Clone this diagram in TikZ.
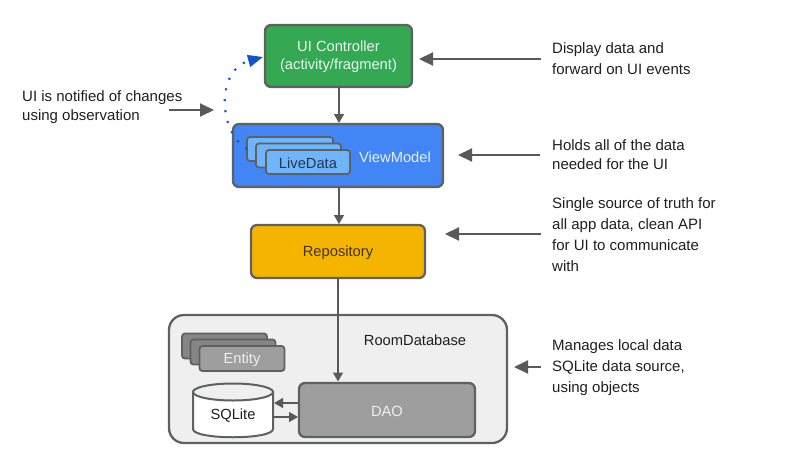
\documentclass[tikz,border=0pt]{standalone}
\usepackage{fontspec}
\setmainfont{Liberation Sans}
\usetikzlibrary{arrows.meta}
\definecolor{edge}{HTML}{5F6061}
\definecolor{arr}{HTML}{595959}
\definecolor{uigreen}{HTML}{34A853}
\definecolor{vmblue}{HTML}{4285F4}
\definecolor{ldblue}{HTML}{6FB5FB}
\definecolor{repo}{HTML}{F4B400}
\definecolor{roombg}{HTML}{EFEFEF}
\definecolor{daogrey}{HTML}{9E9E9E}
\definecolor{txt}{HTML}{1F1F1F}
\definecolor{dots}{HTML}{1155CC}
\tikzset{
  boxn/.style={draw=edge,line width=2.3pt,rounded corners=6pt,inner sep=0pt},
  stacked/.style={draw=edge,line width=1.8pt,rounded corners=3pt,inner sep=0pt},
  lab/.style={font=\fontsize{15}{21}\selectfont,text=txt,align=left,anchor=west,inner sep=0pt},
  labtight/.style={font=\fontsize{15}{19}\selectfont,text=txt,align=left,anchor=west,inner sep=0pt},
  inlab/.style={font=\fontsize{14.7}{18}\selectfont,align=center,inner sep=0pt},
  flow/.style={draw=arr,line width=1.6pt,-{Triangle[length=9pt,width=10pt]}},
  side/.style={draw=arr,line width=2pt,-{Triangle[length=14pt,width=13pt]}},
}
\begin{document}
\begin{tikzpicture}[x=1pt,y=-1pt]
\useasboundingbox (0,0) rectangle (812,464);
% Room database
\node[boxn,fill=roombg,rounded corners=15pt,minimum width=338pt,minimum height=128pt] (room) at (338,379) {};
\node[inlab,text=txt] (roomlab) at (415,340.5) {RoomDatabase};
% Entity stack
\node[stacked,fill=daogrey!85!black,minimum width=85pt,minimum height=25pt] (e1) at (224.5,346) {};
\node[stacked,fill=daogrey!85!black,minimum width=85pt,minimum height=25pt] (e2) at (233,352) {};
\node[stacked,fill=daogrey,minimum width=85pt,minimum height=25pt] (e3) at (242,358.5) {};
\node[inlab,text=roombg] (etext) at (242,360) {Entity};
% SQLite
\draw[draw=edge,line width=2pt,fill=white] (193,392) -- (193,429) .. controls (193,440) and (273,440) .. (273,429) -- (273,392) -- cycle;
\draw[draw=edge,line width=2pt,fill=roombg] (233,392) ellipse [x radius=40,y radius=8.5];
\node[inlab,text=txt] (sqltext) at (233,416) {SQLite};
% DAO
\node[boxn,fill=daogrey,minimum width=176pt,minimum height=54pt] (dao) at (387,410) {};
\node[inlab,text=roombg] (daotext) at (387,411) {DAO};
% ViewModel
\node[boxn,fill=vmblue,minimum width=210pt,minimum height=63pt] (vm) at (338,155.5) {};
\node[inlab,text=white!88!vmblue] (vmtext) at (395,157) {ViewModel};
\node[stacked,fill=ldblue,minimum width=86pt,minimum height=24pt] (l1) at (290,149) {};
\node[stacked,fill=ldblue,minimum width=85pt,minimum height=24pt] (l2) at (298.5,155.5) {};
\node[stacked,fill=ldblue,minimum width=84pt,minimum height=24pt] (l3) at (308,162) {};
\node[inlab,text=txt!80!vmblue] (ltext) at (308,163.5) {LiveData};
% UI
\node[boxn,fill=uigreen,minimum width=147pt,minimum height=62pt] (ui) at (338.5,56) {};
\node[inlab,text=white!90!uigreen] (uitext) at (338.5,57) {UI Controller\\(activity/fragment)};
% Repository
\node[boxn,fill=repo,minimum width=174pt,minimum height=53pt] (rep) at (338,251.5) {};
\node[inlab,text=txt!85!repo] (reptext) at (338,253) {Repository};
% Flow arrows
\draw[flow] (339,87) -- (339,123);
\draw[flow] (339,187) -- (339,224);
\draw[flow] (338,278) -- (338,381.5);
\coordinate (sqla) at (274,403);
\coordinate (daoa) at (298,403);
\coordinate (sqlb) at (274,417);
\coordinate (daob) at (298,417);
\draw[flow,line width=1.4pt] (daoa) -- (sqla);
\draw[flow,line width=1.4pt] (sqlb) -- (daob);
% Notes
\node[lab] (n1) at (552,58.5) {Display data and\\forward on UI events};
\node[labtight] (n2) at (552,155) {Holds all of the data\\needed for the UI};
\node[lab] (n3) at (552,234.5) {Single source of truth for\\all app data, clean API\\for UI to communicate\\with};
\node[lab] (n4) at (552,368) {Manages local data\\SQLite data source,\\using objects};
\node[labtight] (n5) at (22,107) {UI is notified of changes\\using observation};
\coordinate (t1) at (419,59);
\coordinate (s1) at (541,59);
\coordinate (t2) at (458,155);
\coordinate (s2) at (540,155);
\coordinate (t3) at (445,234);
\coordinate (s3) at (541,234);
\coordinate (t4) at (514,367);
\coordinate (s4) at (541,367);
\coordinate (t5) at (214,110);
\coordinate (s5) at (169,110);
\draw[side] (s1) -- (t1);
\draw[side] (s2) -- (t2);
\draw[side] (s3) -- (t3);
\draw[side] (s4) -- (t4);
\draw[side] (s5) -- (t5);
% Observation
\coordinate (ldstart) at (247,149);
\coordinate (uiwest) at (263,57);
\draw[dots,line width=2.2pt,dash pattern=on 2pt off 9pt,
  -{Triangle[length=15pt,width=12pt,fill=dots]}]
  (ldstart) .. controls (218,132) and (216,70) .. (uiwest);
\end{tikzpicture}
\end{document}
